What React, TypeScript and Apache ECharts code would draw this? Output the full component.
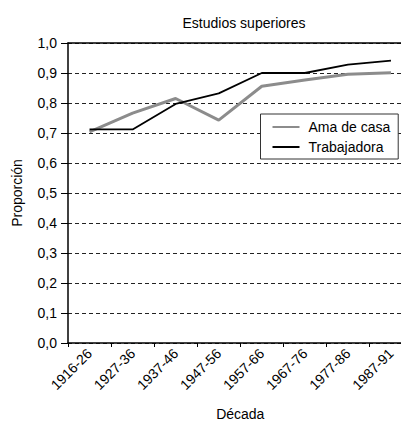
import React, { useEffect, useRef } from "react";
import * as echarts from "echarts";

const categories = ["1916-26", "1927-36", "1937-46", "1947-56", "1957-66", "1967-76", "1977-86", "1987-91"];
const amaDeCasa = [0.704, 0.766, 0.815, 0.743, 0.856, 0.877, 0.896, 0.901];
const trabajadora = [0.712, 0.712, 0.797, 0.832, 0.9, 0.9, 0.928, 0.941];

export default function App() {
  const ref = useRef<HTMLDivElement>(null);
  useEffect(() => {
    const chart = echarts.init(ref.current!, null, { renderer: "svg" });
    const font = "Liberation Sans, Arial, sans-serif";
    const fs = 14;
    chart.setOption({
      animation: false,
      textStyle: { fontFamily: font },
      title: {
        text: "Estudios superiores",
        left: 231,
        textAlign: "center",
        top: 3,
        textStyle: { fontSize: fs, fontWeight: "normal", color: "#000", fontFamily: font },
      },
      grid: { left: 60, top: 35, width: 344.5, height: 300, containLabel: false, outerBoundsMode: "none" },
      legend: {
        orient: "vertical",
        left: 252.5,
        top: 106,
        backgroundColor: "#fff",
        borderColor: "#333",
        borderWidth: 1,
        borderRadius: 0,
        padding: [6, 8, 5, 11],
        itemWidth: 27,
        itemHeight: 14,
        itemGap: 6,
        itemStyle: { opacity: 0 },
        textStyle: { fontSize: fs, color: "#000", fontFamily: font, padding: [0, 0, 0, 4] },
        data: ["Ama de casa", "Trabajadora"],
      },
      xAxis: [
        {
          type: "category",
          data: categories,
          boundaryGap: true,
          axisLine: { lineStyle: { color: "#000", width: 1.5 } },
          axisTick: { show: true, length: 4, lineStyle: { color: "#000" } },
          axisLabel: { rotate: 45, fontSize: fs, color: "#000", margin: 8, fontFamily: font },
          name: "Década",
          nameLocation: "middle",
          nameGap: 64,
          nameTextStyle: { fontSize: fs, color: "#000", fontFamily: font },
        },
        {
          type: "category",
          position: "top",
          data: categories,
          axisLine: { show: true, lineStyle: { color: "#000", width: 1.5 } },
          axisTick: { show: false },
          axisLabel: { show: false },
        },
      ],
      yAxis: {
        type: "value",
        min: 0,
        max: 1,
        interval: 0.1,
        axisLine: { show: true, lineStyle: { color: "#000", width: 1.5 } },
        axisTick: { show: true, length: 7, lineStyle: { color: "#000" } },
        axisLabel: {
          fontSize: fs,
          color: "#000",
          margin: 11,
          fontFamily: font,
          formatter: (v: number) => v.toFixed(1).replace(".", ","),
        },
        splitLine: { show: true, lineStyle: { type: [4, 3], color: "#222", width: 1 } },
        name: "Proporción",
        nameLocation: "middle",
        nameGap: 44,
        nameTextStyle: { fontSize: fs, color: "#000", fontFamily: font },
      },
      series: [
        {
          name: "Ama de casa",
          type: "line",
          data: amaDeCasa,
          symbol: "none",
          lineStyle: { color: "#8c8c8c", width: 3 },
          itemStyle: { color: "#8c8c8c" },
        },
        {
          name: "Trabajadora",
          type: "line",
          data: trabajadora,
          symbol: "none",
          lineStyle: { color: "#000", width: 1.8 },
          itemStyle: { color: "#000" },
        },
      ],
    });
    return () => chart.dispose();
  }, []);
  return <div ref={ref} style={{ width: 401, height: 415 }} />;
}
